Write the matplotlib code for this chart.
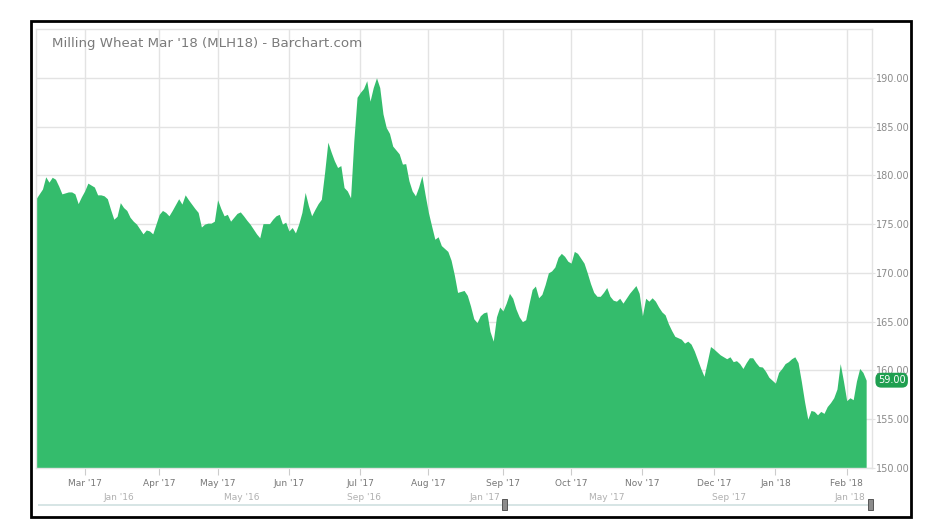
import numpy as np
import matplotlib
matplotlib.use("Agg")
import matplotlib.pyplot as plt
import matplotlib.dates as mdates
from matplotlib.patches import Rectangle
import matplotlib.transforms as mtransforms


# ===== DATA =====
title = "Milling Wheat Mar '18 (MLH18) - Barchart.com"

holidays = ['2017-04-14', '2017-04-17', '2017-05-01',
            '2017-12-25', '2017-12-26', '2018-01-01']

dates = [
    # Feb '17
    '2017-02-08', '2017-02-09', '2017-02-10', '2017-02-13', '2017-02-14', '2017-02-15',
    '2017-02-16', '2017-02-17', '2017-02-20', '2017-02-21', '2017-02-22', '2017-02-23',
    '2017-02-24', '2017-02-27', '2017-02-28',
    # Mar '17
    '2017-03-01', '2017-03-02', '2017-03-03', '2017-03-06', '2017-03-07', '2017-03-08',
    '2017-03-09', '2017-03-10', '2017-03-13', '2017-03-14', '2017-03-15', '2017-03-16',
    '2017-03-17', '2017-03-20', '2017-03-21', '2017-03-22', '2017-03-23', '2017-03-24',
    '2017-03-27', '2017-03-28', '2017-03-29', '2017-03-30', '2017-03-31',
    # Apr '17
    '2017-04-03', '2017-04-04', '2017-04-05', '2017-04-06', '2017-04-07', '2017-04-10',
    '2017-04-11', '2017-04-12', '2017-04-13', '2017-04-18', '2017-04-19', '2017-04-20',
    '2017-04-21', '2017-04-24', '2017-04-25', '2017-04-26', '2017-04-27', '2017-04-28',
    # May '17
    '2017-05-02', '2017-05-03', '2017-05-04', '2017-05-05', '2017-05-08', '2017-05-09',
    '2017-05-10', '2017-05-11', '2017-05-12', '2017-05-15', '2017-05-16', '2017-05-17',
    '2017-05-18', '2017-05-19', '2017-05-22', '2017-05-23', '2017-05-24', '2017-05-25',
    '2017-05-26', '2017-05-29', '2017-05-30', '2017-05-31',
    # Jun '17
    '2017-06-01', '2017-06-02', '2017-06-05', '2017-06-06', '2017-06-07', '2017-06-08',
    '2017-06-09', '2017-06-12', '2017-06-13', '2017-06-14', '2017-06-15', '2017-06-16',
    '2017-06-19', '2017-06-20', '2017-06-21', '2017-06-22', '2017-06-23', '2017-06-26',
    '2017-06-27', '2017-06-28', '2017-06-29', '2017-06-30',
    # Jul '17
    '2017-07-03', '2017-07-04', '2017-07-05', '2017-07-06', '2017-07-07', '2017-07-10',
    '2017-07-11', '2017-07-12', '2017-07-13', '2017-07-14', '2017-07-17', '2017-07-18',
    '2017-07-19', '2017-07-20', '2017-07-21', '2017-07-24', '2017-07-25', '2017-07-26',
    '2017-07-27', '2017-07-28', '2017-07-31',
    # Aug '17
    '2017-08-01', '2017-08-02', '2017-08-03', '2017-08-04', '2017-08-07', '2017-08-08',
    '2017-08-09', '2017-08-10', '2017-08-11', '2017-08-14', '2017-08-15', '2017-08-16',
    '2017-08-17', '2017-08-18', '2017-08-21', '2017-08-22', '2017-08-23', '2017-08-24',
    '2017-08-25', '2017-08-28', '2017-08-29', '2017-08-30', '2017-08-31',
    # Sep '17
    '2017-09-01', '2017-09-04', '2017-09-05', '2017-09-06', '2017-09-07', '2017-09-08',
    '2017-09-11', '2017-09-12', '2017-09-13', '2017-09-14', '2017-09-15', '2017-09-18',
    '2017-09-19', '2017-09-20', '2017-09-21', '2017-09-22', '2017-09-25', '2017-09-26',
    '2017-09-27', '2017-09-28', '2017-09-29',
    # Oct '17
    '2017-10-02', '2017-10-03', '2017-10-04', '2017-10-05', '2017-10-06', '2017-10-09',
    '2017-10-10', '2017-10-11', '2017-10-12', '2017-10-13', '2017-10-16', '2017-10-17',
    '2017-10-18', '2017-10-19', '2017-10-20', '2017-10-23', '2017-10-24', '2017-10-25',
    '2017-10-26', '2017-10-27', '2017-10-30', '2017-10-31',
    # Nov '17
    '2017-11-01', '2017-11-02', '2017-11-03', '2017-11-06', '2017-11-07', '2017-11-08',
    '2017-11-09', '2017-11-10', '2017-11-13', '2017-11-14', '2017-11-15', '2017-11-16',
    '2017-11-17', '2017-11-20', '2017-11-21', '2017-11-22', '2017-11-23', '2017-11-24',
    '2017-11-27', '2017-11-28', '2017-11-29', '2017-11-30',
    # Dec '17
    '2017-12-01', '2017-12-04', '2017-12-05', '2017-12-06', '2017-12-07', '2017-12-08',
    '2017-12-11', '2017-12-12', '2017-12-13', '2017-12-14', '2017-12-15', '2017-12-18',
    '2017-12-19', '2017-12-20', '2017-12-21', '2017-12-22', '2017-12-27', '2017-12-28',
    '2017-12-29',
    # Jan '18
    '2018-01-02', '2018-01-03', '2018-01-04', '2018-01-05', '2018-01-08', '2018-01-09',
    '2018-01-10', '2018-01-11', '2018-01-12', '2018-01-15', '2018-01-16', '2018-01-17',
    '2018-01-18', '2018-01-19', '2018-01-22', '2018-01-23', '2018-01-24', '2018-01-25',
    '2018-01-26', '2018-01-29', '2018-01-30', '2018-01-31',
    # Feb '18
    '2018-02-01', '2018-02-02', '2018-02-05', '2018-02-06', '2018-02-07', '2018-02-08',
    '2018-02-09',
]

prices = [
    # Feb '17
    177.6, 178.1, 178.6, 179.85, 179.3, 179.8, 179.6, 178.9, 178.1, 178.2, 178.3, 178.3,
    178.1, 177.1, 177.8,
    # Mar '17
    178.4, 179.2, 179.0, 178.8, 178.0, 178.0, 177.9, 177.6, 176.5, 175.5, 175.8, 177.2,
    176.7, 176.4, 175.7, 175.3, 175.0, 174.5, 174.0, 174.4, 174.3, 174.0, 175.0,
    # Apr '17
    176.0, 176.4, 176.2, 175.85, 176.4, 177.0, 177.6, 177.05, 178.0, 177.5, 177.05, 176.6,
    176.2, 174.7, 175.0, 175.1, 175.1, 175.3,
    # May '17
    177.5, 176.6, 175.85, 176.0, 175.3, 175.7, 176.1, 176.25, 175.85, 175.4, 175.0, 174.5,
    174.0, 173.6, 175.05, 175.05, 175.05, 175.5, 175.85, 176.0, 175.0, 175.2,
    # Jun '17
    174.3, 174.65, 174.1, 175.0, 176.2, 178.25, 176.9, 175.85, 176.5, 177.1, 177.55, 180.3,
    183.4, 182.4, 181.5, 180.8, 181.0, 178.75, 178.4, 177.7, 183.5, 188.0,
    # Jul '17
    188.5, 188.9, 189.7, 187.6, 189.0, 190.0, 189.0, 186.3, 184.9, 184.3, 183.0, 182.6,
    182.2, 181.15, 181.2, 179.45, 178.4, 177.9, 178.8, 179.95, 178.0,
    # Aug '17
    176.2, 174.8, 173.45, 173.7, 172.8, 172.5, 172.2, 171.3, 169.8, 168.0, 168.1, 168.2,
    167.7, 166.6, 165.3, 164.9, 165.6, 165.9, 166.0, 164.0, 163.0, 165.5, 166.5,
    # Sep '17
    166.1, 166.9, 167.9, 167.4, 166.3, 165.5, 165.0, 165.2, 166.8, 168.3, 168.65, 167.45,
    167.8, 168.8, 170.0, 170.2, 170.6, 171.6, 172.0, 171.7, 171.2,
    # Oct '17
    171.0, 172.2, 172.0, 171.5, 171.0, 170.0, 168.9, 168.0, 167.6, 167.6, 168.0, 168.5,
    167.6, 167.2, 167.1, 167.4, 166.9, 167.4, 167.9, 168.3, 168.7, 167.9,
    # Nov '17
    165.6, 167.4, 167.1, 167.45, 167.1, 166.5, 166.0, 165.7, 164.8, 164.1, 163.5, 163.35,
    163.2, 162.8, 163.0, 162.7, 162.0, 161.1, 160.2, 159.4, 160.9, 162.45,
    # Dec '17
    162.2, 161.9, 161.6, 161.4, 161.2, 161.4, 160.9, 161.0, 160.7, 160.2, 160.8, 161.3,
    161.3, 160.8, 160.4, 160.35, 159.9, 159.3, 159.0,
    # Jan '18
    158.7, 159.8, 160.2, 160.7, 160.9, 161.2, 161.4, 160.8, 158.9, 156.8, 155.0, 155.9,
    155.8, 155.45, 155.8, 155.6, 156.3, 156.7, 157.2, 158.1, 160.7, 158.9,
    # Feb '18
    156.9, 157.2, 157.0, 158.9, 160.2, 159.8, 159.0,
]

month_ticks = ['2017-03-01', '2017-04-03', '2017-05-02', '2017-06-01', '2017-07-03',
               '2017-08-01', '2017-09-01', '2017-10-02', '2017-11-01', '2017-12-01',
               '2018-01-02', '2018-02-01']
month_labels = ["Mar '17", "Apr '17", "May '17", "Jun '17", "Jul '17", "Aug '17",
                "Sep '17", "Oct '17", "Nov '17", "Dec '17", "Jan '18", "Feb '18"]
y_ticks = [150, 155, 160, 165, 170, 175, 180, 185, 190]

nav_ticks = ['2016-01-01', '2016-05-01', '2016-09-01', '2017-01-01',
             '2017-05-01', '2017-09-01', '2018-01-01']
nav_labels = ["Jan '16", "May '16", "Sep '16", "Jan '17", "May '17", "Sep '17", "Jan '18"]

last_price_label = "59.00"


# ===== HELPERS =====
def trading_index(d):
    # position on a trading-day axis (weekends and exchange holidays skipped)
    return np.busday_count(dates[0], d, holidays=holidays)


GREEN = '#34bc6c'
GRID = '#e3e3e3'
TXT = '#8a8a8a'

W, H = 940, 523
fig = plt.figure(figsize=(W / 100, H / 100), dpi=100)
fig.patch.set_facecolor('white')

# ===== MAIN AREA CHART =====
ax = fig.add_axes([36 / W, 55 / H, 836 / W, 439 / H])
x = trading_index(dates)
ax.fill_between(x, prices, 150, color=GREEN, lw=0, zorder=2)
ax.set_xlim(0, x[-1] + 1.8)
ax.set_ylim(150, 195)

ax.set_xticks(trading_index(month_ticks))
ax.set_xticklabels(month_labels)
ax.set_yticks(y_ticks)
ax.set_yticklabels([f'{v:.2f}' for v in y_ticks])
ax.yaxis.tick_right()
ax.grid(True, color=GRID, lw=1, zorder=0)
ax.set_axisbelow(True)
ax.tick_params(axis='x', length=5, width=0.8, color='#cccccc', pad=3,
               labelsize=6.5, labelcolor='#777777')
ax.tick_params(axis='y', length=2, width=0.8, color=GRID, pad=1,
               labelsize=7, labelcolor=TXT)
for s in ax.spines.values():
    s.set_color(GRID)
    s.set_linewidth(1)

# last price tag
trans = mtransforms.blended_transform_factory(ax.transAxes, ax.transData)
ax.text(1.007, prices[-1], last_price_label, transform=trans, fontsize=7,
        color='white', va='center', ha='left', clip_on=False, zorder=5,
        bbox=dict(boxstyle='round,pad=0.25,rounding_size=0.6', fc='#1f9f50', ec='none'))

fig.text(52 / W, 1 - 44 / H, title, fontsize=9.6, color='#7a7a7a', va='center', ha='left')

# ===== NAVIGATOR =====
nav = fig.add_axes([38 / W, 3 / H, 834 / W, 30 / H])
nav_left = np.datetime64('2016-01-01') - np.timedelta64(63, 'D')
nav.set_xlim(mdates.date2num(nav_left), mdates.date2num(nav_left + np.timedelta64(834, 'D')))
nav.set_ylim(0, 1)
nav.axis('off')
nav.axhline(0.5, color='#cfe0e0', lw=1.2)
for d, lab in zip(nav_ticks, nav_labels):
    nav.text(mdates.date2num(np.datetime64(d)) + 2, 0.74, lab, fontsize=6.5,
             color='#b0b0b0', va='center', ha='left')
for d in [dates[0], dates[-1]]:
    xd = mdates.date2num(np.datetime64(d))
    nav.add_patch(Rectangle((xd - 2.5, 0.32), 5, 0.38, fc='#8c8c8c', ec='#555555', lw=0.7,
                            zorder=3, clip_on=False))

# ===== OUTER FRAME =====
fig.add_artist(Rectangle((31 / W, 1 - 517 / H), (911 - 31) / W, (517 - 21) / H,
                         transform=fig.transFigure, fill=False, ec='black', lw=2, zorder=10))

fig.savefig('out.png', dpi=100, facecolor='white')
